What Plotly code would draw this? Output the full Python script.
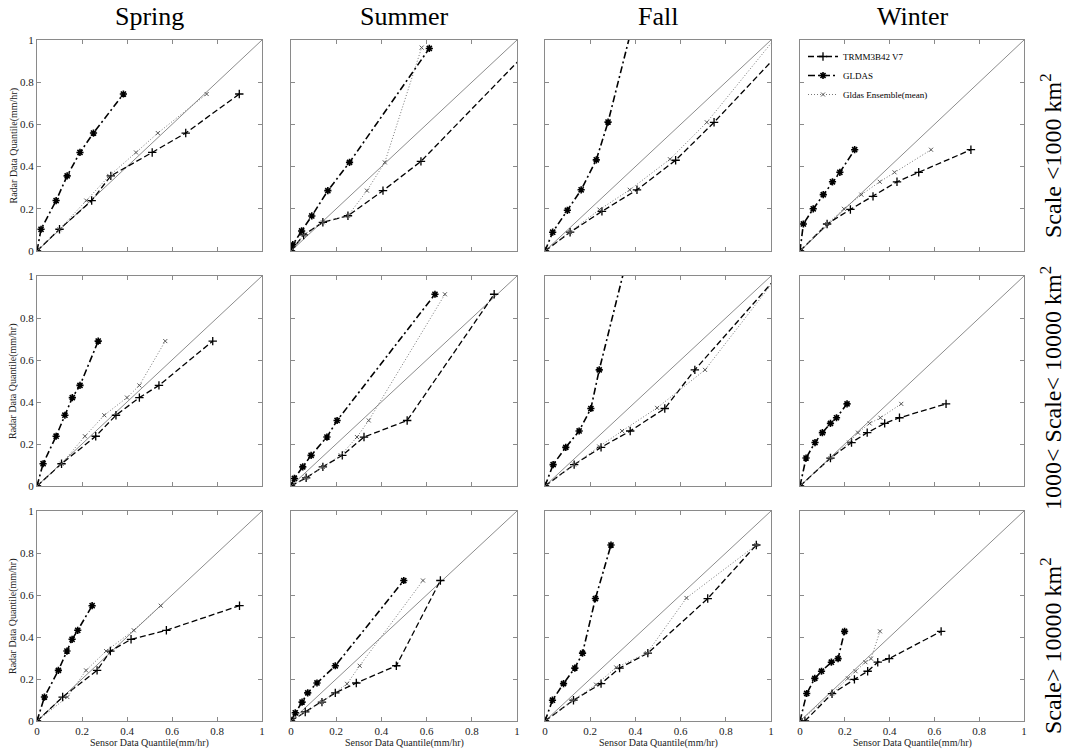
import plotly.graph_objects as go

# ---------------- data (sensor quantile x, radar quantile y) ----------------
seasons = ["Spring", "Summer", "Fall", "Winter"]
scale_labels = ["Scale <1000 km<sup>2</sup>",
                "1000< Scale< 10000 km<sup>2</sup>",
                "Scale> 10000 km<sup>2</sup>"]
series_names = ["TRMM3B42 V7", "GLDAS", "Gldas Ensemble(mean)"]
x_title = "Sensor Data Quantile(mm/hr)"
y_title = "Radar Data Quantile(mm/hr)"
identity_line = [0, 1]
tick_values = [0, 0.2, 0.4, 0.6, 0.8, 1]

# Row 1: Scale < 1000 km2
sp1_trmm_x = [0, 0.10, 0.243, 0.328, 0.512, 0.661, 0.899]
sp1_trmm_y = [0, 0.103, 0.239, 0.356, 0.467, 0.559, 0.744]
sp1_gldas_x = [0, 0.018, 0.085, 0.134, 0.191, 0.251, 0.384]
sp1_gldas_y = [0, 0.103, 0.239, 0.356, 0.467, 0.559, 0.744]
sp1_ens_x = [0, 0.10, 0.219, 0.321, 0.44, 0.537, 0.754]
sp1_ens_y = [0, 0.103, 0.239, 0.356, 0.467, 0.559, 0.744]

su1_trmm_x = [0, 0.056, 0.141, 0.252, 0.407, 0.575, 1.06]
su1_trmm_y = [0, 0.076, 0.136, 0.167, 0.286, 0.425, 0.96]
su1_gldas_x = [0, 0.008, 0.047, 0.092, 0.163, 0.259, 0.612]
su1_gldas_y = [0, 0.03, 0.095, 0.166, 0.286, 0.42, 0.96]
su1_ens_x = [0, 0.056, 0.141, 0.252, 0.336, 0.415, 0.578]
su1_ens_y = [0, 0.076, 0.136, 0.167, 0.286, 0.42, 0.964]

fa1_trmm_x = [0, 0.111, 0.252, 0.407, 0.578, 0.748, 1.135]
fa1_trmm_y = [0, 0.089, 0.188, 0.29, 0.43, 0.61, 1.05]
fa1_gldas_x = [0, 0.034, 0.099, 0.16, 0.227, 0.279, 0.42]
fa1_gldas_y = [0, 0.089, 0.193, 0.29, 0.432, 0.611, 1.21]
fa1_ens_x = [0, 0.111, 0.241, 0.375, 0.553, 0.716, 1.05]
fa1_ens_y = [0, 0.089, 0.196, 0.29, 0.435, 0.61, 1.05]

wi1_trmm_x = [0, 0.121, 0.225, 0.326, 0.433, 0.53, 0.763]
wi1_trmm_y = [0, 0.128, 0.197, 0.259, 0.328, 0.373, 0.48]
wi1_gldas_x = [0, 0.015, 0.059, 0.104, 0.145, 0.178, 0.244]
wi1_gldas_y = [0, 0.128, 0.2, 0.267, 0.328, 0.373, 0.48]
wi1_ens_x = [0, 0.121, 0.196, 0.274, 0.356, 0.422, 0.585]
wi1_ens_y = [0, 0.128, 0.2, 0.267, 0.328, 0.373, 0.48]

# Row 2: 1000 < Scale < 10000 km2
sp2_trmm_x = [0, 0.109, 0.261, 0.351, 0.455, 0.542, 0.781]
sp2_trmm_y = [0, 0.106, 0.237, 0.337, 0.421, 0.479, 0.69]
sp2_gldas_x = [0, 0.027, 0.085, 0.124, 0.157, 0.191, 0.272]
sp2_gldas_y = [0, 0.106, 0.237, 0.337, 0.421, 0.479, 0.69]
sp2_ens_x = [0, 0.109, 0.213, 0.299, 0.4, 0.455, 0.57]
sp2_ens_y = [0, 0.106, 0.237, 0.337, 0.421, 0.479, 0.69]

su2_trmm_x = [0, 0.067, 0.141, 0.227, 0.323, 0.514, 0.899]
su2_trmm_y = [0, 0.039, 0.091, 0.146, 0.233, 0.312, 0.913]
su2_gldas_x = [0, 0.015, 0.052, 0.089, 0.159, 0.204, 0.637]
su2_gldas_y = [0, 0.036, 0.091, 0.146, 0.233, 0.312, 0.913]
su2_ens_x = [0, 0.067, 0.141, 0.22, 0.292, 0.344, 0.681]
su2_ens_y = [0, 0.039, 0.091, 0.146, 0.233, 0.312, 0.913]

fa2_trmm_x = [0, 0.129, 0.248, 0.377, 0.53, 0.663, 1.03]
fa2_trmm_y = [0, 0.102, 0.184, 0.262, 0.369, 0.553, 1.0]
fa2_gldas_x = [0, 0.036, 0.092, 0.151, 0.203, 0.24, 0.39]
fa2_gldas_y = [0, 0.102, 0.184, 0.262, 0.369, 0.553, 1.2]
fa2_ens_x = [0, 0.129, 0.24, 0.341, 0.496, 0.708, 1.03]
fa2_ens_y = [0, 0.102, 0.188, 0.262, 0.372, 0.553, 1.0]

wi2_trmm_x = [0, 0.136, 0.23, 0.3, 0.378, 0.444, 0.652]
wi2_trmm_y = [0, 0.133, 0.207, 0.254, 0.298, 0.325, 0.391]
wi2_gldas_x = [0, 0.027, 0.067, 0.1, 0.136, 0.163, 0.21]
wi2_gldas_y = [0, 0.133, 0.207, 0.254, 0.298, 0.325, 0.391]
wi2_ens_x = [0, 0.136, 0.219, 0.259, 0.311, 0.359, 0.452]
wi2_ens_y = [0, 0.133, 0.207, 0.254, 0.298, 0.325, 0.391]

# Row 3: Scale > 10000 km2
sp3_trmm_x = [0, 0.114, 0.267, 0.326, 0.418, 0.575, 0.9]
sp3_trmm_y = [0, 0.114, 0.241, 0.333, 0.389, 0.432, 0.549]
sp3_gldas_x = [0, 0.033, 0.095, 0.133, 0.156, 0.181, 0.245]
sp3_gldas_y = [0, 0.114, 0.241, 0.333, 0.389, 0.432, 0.549]
sp3_ens_x = [0, 0.135, 0.218, 0.307, 0.43, 0.55]
sp3_ens_y = [0, 0.114, 0.241, 0.333, 0.432, 0.549]

su3_trmm_x = [0, 0.063, 0.137, 0.196, 0.289, 0.466, 0.661]
su3_trmm_y = [0, 0.043, 0.09, 0.134, 0.181, 0.263, 0.669]
su3_gldas_x = [0, 0.019, 0.049, 0.074, 0.115, 0.196, 0.499]
su3_gldas_y = [0, 0.039, 0.09, 0.134, 0.181, 0.263, 0.669]
su3_ens_x = [0, 0.137, 0.248, 0.304, 0.584]
su3_ens_y = [0, 0.09, 0.177, 0.263, 0.669]

fa3_trmm_x = [0, 0.126, 0.248, 0.33, 0.455, 0.72, 0.935]
fa3_trmm_y = [0, 0.099, 0.178, 0.252, 0.323, 0.583, 0.838]
fa3_gldas_x = [0, 0.033, 0.082, 0.132, 0.166, 0.223, 0.292]
fa3_gldas_y = [0, 0.099, 0.178, 0.252, 0.323, 0.583, 0.838]
fa3_ens_x = [0, 0.126, 0.226, 0.315, 0.451, 0.626, 0.935]
fa3_ens_y = [0, 0.099, 0.173, 0.255, 0.323, 0.586, 0.838]

wi3_trmm_x = [0.022, 0.143, 0.243, 0.302, 0.347, 0.398, 0.63]
wi3_trmm_y = [0, 0.13, 0.198, 0.237, 0.28, 0.297, 0.427]
wi3_gldas_x = [0, 0.03, 0.066, 0.096, 0.14, 0.17, 0.199]
wi3_gldas_y = [0, 0.131, 0.203, 0.237, 0.28, 0.297, 0.427]
wi3_ens_x = [0, 0.143, 0.214, 0.248, 0.292, 0.317, 0.357]
wi3_ens_y = [0, 0.13, 0.203, 0.237, 0.28, 0.297, 0.427]

panels = [
    [((sp1_trmm_x, sp1_trmm_y), (sp1_gldas_x, sp1_gldas_y), (sp1_ens_x, sp1_ens_y)),
     ((su1_trmm_x, su1_trmm_y), (su1_gldas_x, su1_gldas_y), (su1_ens_x, su1_ens_y)),
     ((fa1_trmm_x, fa1_trmm_y), (fa1_gldas_x, fa1_gldas_y), (fa1_ens_x, fa1_ens_y)),
     ((wi1_trmm_x, wi1_trmm_y), (wi1_gldas_x, wi1_gldas_y), (wi1_ens_x, wi1_ens_y))],
    [((sp2_trmm_x, sp2_trmm_y), (sp2_gldas_x, sp2_gldas_y), (sp2_ens_x, sp2_ens_y)),
     ((su2_trmm_x, su2_trmm_y), (su2_gldas_x, su2_gldas_y), (su2_ens_x, su2_ens_y)),
     ((fa2_trmm_x, fa2_trmm_y), (fa2_gldas_x, fa2_gldas_y), (fa2_ens_x, fa2_ens_y)),
     ((wi2_trmm_x, wi2_trmm_y), (wi2_gldas_x, wi2_gldas_y), (wi2_ens_x, wi2_ens_y))],
    [((sp3_trmm_x, sp3_trmm_y), (sp3_gldas_x, sp3_gldas_y), (sp3_ens_x, sp3_ens_y)),
     ((su3_trmm_x, su3_trmm_y), (su3_gldas_x, su3_gldas_y), (su3_ens_x, su3_ens_y)),
     ((fa3_trmm_x, fa3_trmm_y), (fa3_gldas_x, fa3_gldas_y), (fa3_ens_x, fa3_ens_y)),
     ((wi3_trmm_x, wi3_trmm_y), (wi3_gldas_x, wi3_gldas_y), (wi3_ens_x, wi3_ens_y))],
]

# ---------------- styling / layout ----------------
W, H = 1065, 749
SERIF = "Liberation Serif"
col_px = [(37, 262), (291, 517), (545, 771), (800, 1024)]
row_px = [(40, 251), (276, 486), (511, 721)]

styles = [
    dict(line=dict(color="black", width=1.3, dash="6px,3px"),
         marker=dict(symbol="cross-thin-open", size=6, color="black",
                     line=dict(color="black", width=1.3))),
    dict(line=dict(color="black", width=1.6, dash="7px,3px,2px,3px"),
         marker=dict(symbol="asterisk-open", size=6, color="black",
                     line=dict(color="black", width=1.6))),
    dict(line=dict(color="#777777", width=1, dash="1px,2px"),
         marker=dict(symbol="x-thin-open", size=4, color="#555",
                     line=dict(color="#555", width=1))),
]

fig = go.Figure()
layout = dict()
for r in range(3):
    for c in range(4):
        idx = r * 4 + c + 1
        xs = "" if idx == 1 else str(idx)
        xref, yref = "x" + xs, "y" + xs
        fig.add_trace(go.Scatter(x=identity_line, y=identity_line, mode="lines",
                                 line=dict(color="#8c8c8c", width=1),
                                 showlegend=False, hoverinfo="skip",
                                 xaxis=xref, yaxis=yref))
        for k, (sx, sy) in enumerate(panels[r][c]):
            fig.add_trace(go.Scatter(x=sx, y=sy, mode="lines+markers",
                                     name=series_names[k],
                                     showlegend=(idx == 1),
                                     xaxis=xref, yaxis=yref, **styles[k]))
        x0, x1 = col_px[c]
        y0, y1 = row_px[r]
        ax_common = dict(range=[0, 1], showline=True, linecolor="#8a8a8a",
                         linewidth=1, mirror="ticks", ticks="inside", ticklen=4,
                         tickcolor="#8a8a8a", tickvals=tick_values,
                         showgrid=False, zeroline=False, automargin=False,
                         tickfont=dict(family=SERIF, size=11, color="#222"))
        layout["xaxis" + xs] = dict(ax_common, domain=[x0 / W, x1 / W],
                                    anchor=yref, showticklabels=(r == 2))
        layout["yaxis" + xs] = dict(ax_common, domain=[1 - y1 / H, 1 - y0 / H],
                                    anchor=xref, showticklabels=(c == 0))

annotations = []
for c, name in enumerate(seasons):
    x0, x1 = col_px[c]
    annotations.append(dict(text=name, x=(x0 + x1) / 2 / W, y=1 - 16 / H,
                            xref="paper", yref="paper", showarrow=False,
                            xanchor="center", yanchor="middle",
                            font=dict(family=SERIF, size=26, color="black")))
    annotations.append(dict(text=x_title, x=(x0 + x1) / 2 / W, y=1 - 743 / H,
                            xref="paper", yref="paper", showarrow=False,
                            xanchor="center", yanchor="middle",
                            font=dict(family=SERIF, size=10, color="#222")))
for r in range(3):
    y0, y1 = row_px[r]
    annotations.append(dict(text=y_title, x=13 / W, y=1 - (y0 + y1) / 2 / H,
                            xref="paper", yref="paper", showarrow=False,
                            textangle=-90, xanchor="center", yanchor="middle",
                            font=dict(family=SERIF, size=10, color="#222")))
right_centers = [156, 388, 646]
for r, lab in enumerate(scale_labels):
    annotations.append(dict(text=lab, x=1051 / W, y=1 - right_centers[r] / H,
                            xref="paper", yref="paper", showarrow=False,
                            textangle=-90, xanchor="center", yanchor="middle",
                            font=dict(family=SERIF, size=24, color="black")))

fig.update_layout(
    template="none",
    width=W, height=H,
    margin=dict(l=0, r=0, t=0, b=0),
    paper_bgcolor="white", plot_bgcolor="white",
    font=dict(family=SERIF, color="black"),
    showlegend=True,
    legend=dict(x=803 / W, y=1 - 42 / H, xanchor="left", yanchor="top",
                bgcolor="rgba(0,0,0,0)", font=dict(family=SERIF, size=9),
                itemwidth=30, tracegroupgap=0),
    annotations=annotations,
    **layout,
)

fig.write_html("out.html", config={"displayModeBar": False},
               post_script="document.body.style.margin='0';"
                           "document.body.style.overflow='hidden';")
